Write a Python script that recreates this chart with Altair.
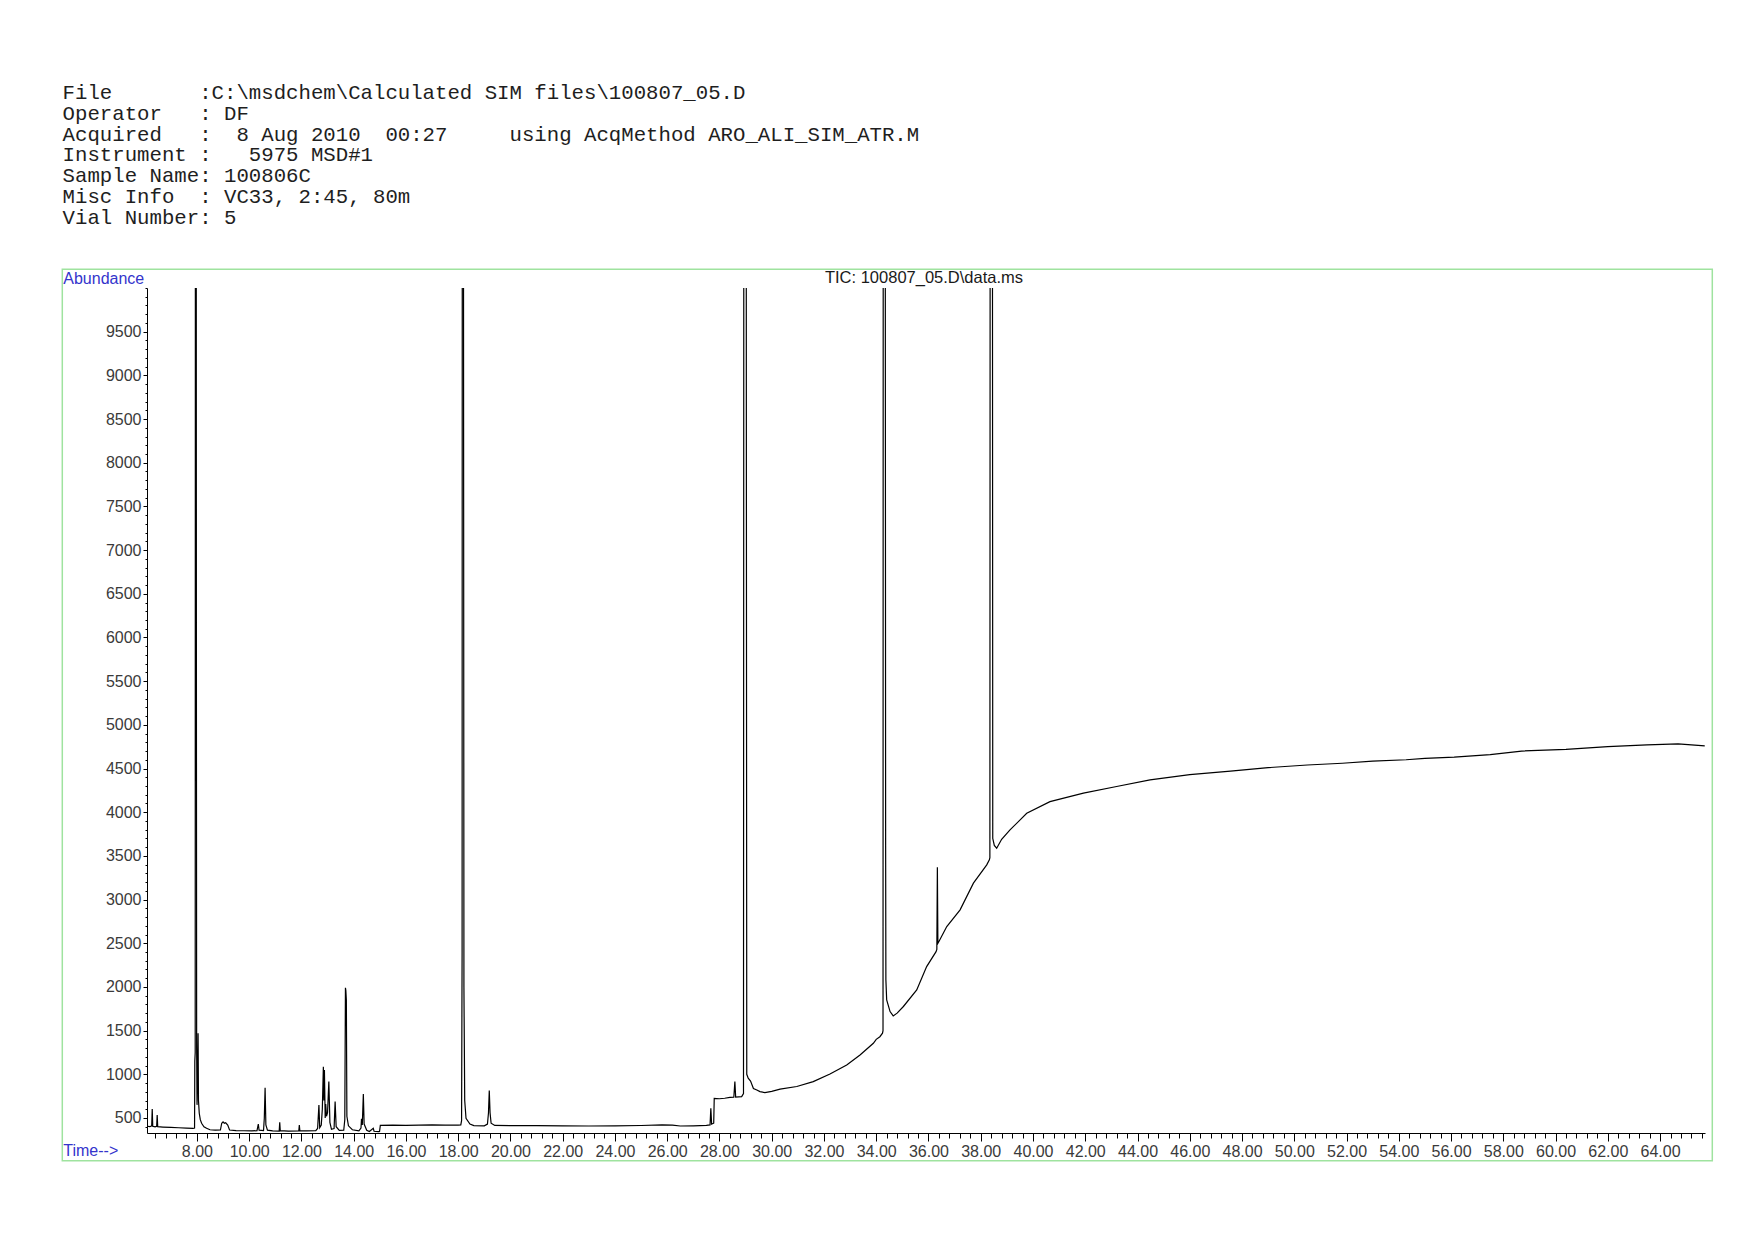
import altair as alt
import pandas as pd

# ---------------- text ----------------
header_lines = [
    "File       :C:\\msdchem\\Calculated SIM files\\100807_05.D",
    "Operator   : DF",
    "Acquired   :  8 Aug 2010  00:27     using AcqMethod ARO_ALI_SIM_ATR.M",
    "Instrument :   5975 MSD#1",
    "Sample Name: 100806C",
    "Misc Info  : VC33, 2:45, 80m",
    "Vial Number: 5",
]
plot_title = "TIC: 100807_05.D\\data.ms"
y_label = "Abundance"
x_label = "Time-->"

# ---------------- chromatogram (retention time in min, abundance) ----------------
rt = [
    6.10, 6.20, 6.27, 6.29, 6.31, 6.40, 6.46, 6.48, 6.50, 6.70, 7.00, 7.30, 7.60, 7.85,
    7.91, 7.92, 7.935, 7.955, 7.980, 7.990, 8.005, 8.03, 8.045, 8.06, 8.09, 8.13, 8.18,
    8.27, 8.37, 8.50, 8.70, 8.90, 8.95, 9.00, 9.05, 9.10, 9.18, 9.25, 9.50, 9.80, 10.10,
    10.30, 10.35, 10.38, 10.55, 10.58, 10.61, 10.64, 10.70, 10.90, 11.15, 11.17, 11.19,
    11.50, 11.90, 11.92, 11.94, 12.20, 12.55, 12.62, 12.67, 12.70, 12.76, 12.80, 12.84,
    12.86, 12.88, 12.91, 12.93, 12.96, 13.00, 13.05, 13.09, 13.15, 13.25, 13.29, 13.33,
    13.45, 13.62, 13.66, 13.685, 13.70, 13.72, 13.74, 13.80, 13.95, 14.20, 14.28, 14.30,
    14.33, 14.37, 14.40, 14.50, 14.60, 14.75, 14.78, 14.95, 14.99, 15.02, 15.50, 16.00,
    16.50, 17.00, 17.50, 18.00, 18.10, 18.13, 18.15, 18.17, 18.205, 18.22, 18.25, 18.30,
    18.45, 18.60, 19.00, 19.12, 19.16, 19.19, 19.22, 19.26, 19.40, 20.00, 21.00, 22.00,
    23.00, 24.00, 25.00, 25.80, 26.20, 26.50, 27.00, 27.50, 27.64, 27.67, 27.70, 27.78,
    27.80, 28.00, 28.20, 28.40, 28.55, 28.59, 28.62, 28.85, 28.92, 28.965, 29.045, 29.10,
    29.19, 29.30, 29.43, 29.55, 29.74, 30.00, 30.32, 30.96, 31.59, 32.23, 32.87, 33.38,
    33.89, 34.00, 34.14, 34.24, 34.26, 34.29, 34.36, 34.37, 34.40, 34.53, 34.65, 34.80,
    35.04, 35.55, 35.93, 36.29, 36.32, 36.34, 36.36, 36.40, 36.70, 37.21, 37.72, 38.23,
    38.33, 38.35, 38.40, 38.46, 38.52, 38.61, 38.80, 39.12, 39.76, 40.65, 41.93, 43.20,
    44.48, 46.00, 47.56, 49.00, 50.50, 51.84, 53.00, 54.28, 55.00, 56.12, 57.50, 58.70,
    60.40, 62.00, 63.50, 64.69, 65.71,
]
abundance = [
    405, 400, 410, 603, 405, 398, 405, 534, 400, 396, 392, 388, 384, 380,
    385, 1150, 1250, 30000, 6170, 1300, 650, 1100, 1470, 700, 554, 480, 440,
    400, 382, 365, 360, 362, 440, 455, 440, 445, 420, 362, 356, 354, 352,
    355, 431, 360, 355, 500, 847, 420, 360, 352, 350, 450, 355,
    350, 352, 420, 355, 352, 355, 380, 649, 390, 420, 600, 1087,
    700, 1050, 500, 660, 520, 560, 916, 450, 370, 380, 687, 400,
    358, 360, 480, 1990, 1960, 1850, 520, 410, 365, 352, 385, 490,
    420, 775, 430, 360, 345, 382, 348, 343, 345, 416, 418, 415,
    418, 420, 417, 418, 420, 470, 2400, 30000, 9700, 2000, 700, 497,
    431, 412, 410, 430, 560, 815, 560, 440, 415, 412, 413, 410,
    408, 410, 414, 420, 418, 408, 410, 415, 420, 611, 430, 440,
    725, 720, 726, 735, 738, 916, 740, 745, 780, 40000, 1000, 955,
    923, 838, 820, 802, 790, 805, 830, 860, 916, 1003, 1107, 1220,
    1355, 1400, 1430, 1470, 1500, 40000, 3630, 2080, 1851, 1718, 1668, 1700,
    1776, 1966, 2233, 2404, 2430, 3370, 2500, 2520, 2691, 2882, 3188, 3397,
    3454, 3480, 40000, 3700, 3620, 3588, 3690, 3797, 3987, 4121, 4218, 4294,
    4370, 4430, 4470, 4510, 4540, 4560, 4585, 4600, 4615, 4630, 4660, 4700,
    4720, 4750, 4770, 4783, 4760,
]

# ---------------- axes ----------------
x_domain = [6.09, 65.72]
y_domain = [328, 10000]
x_major = [8.0 + 2 * i for i in range(29)]              # 8.00 ... 64.00
x_minor = [round(6.4 + 0.4 * i, 1) for i in range(149)]  # every 0.4 min
y_major = [500 + 500 * i for i in range(19)]            # 500 ... 9500
y_minor = [400 + 100 * i for i in range(97)]            # every 100

df = pd.DataFrame({"rt": rt, "abundance": abundance})

BLUE = "#3434cc"
LABEL_FONT = "Liberation Sans"
NBSP = "\u00a0"

xs = alt.Scale(domain=x_domain, nice=False, zero=False)
ys = alt.Scale(domain=y_domain, nice=False, zero=False)

major_x_axis = alt.Axis(
    values=x_major, format=".2f", title=None, grid=False, orient="bottom",
    tickSize=8, tickColor="black", domainColor="black", domainWidth=1,
    labelFont=LABEL_FONT, labelFontSize=16, labelColor="#3a3a3a",
    labelPadding=2, labelOverlap=False, labelFlush=False,
)
major_y_axis = alt.Axis(
    values=y_major, format="d", title=None, grid=False, orient="left",
    tickSize=4, tickColor="black", domainColor="black", domainWidth=1,
    labelFont=LABEL_FONT, labelFontSize=16, labelColor="#3a3a3a",
    labelPadding=2, labelOverlap=False, labelFlush=False,
)
minor_x_axis = alt.Axis(
    values=x_minor, labels=False, title=None, grid=False, orient="bottom",
    tickSize=5, tickColor="black", domain=False,
)
minor_y_axis = alt.Axis(
    values=y_minor, labels=False, title=None, grid=False, orient="left",
    tickSize=2, tickColor="black", domain=False,
)

trace = alt.Chart(df).mark_line(color="black", strokeWidth=1.2, clip=True).encode(
    x=alt.X("rt:Q", scale=xs, axis=major_x_axis),
    y=alt.Y("abundance:Q", scale=ys, axis=major_y_axis),
)
minor = alt.Chart(df).mark_line(opacity=0, clip=True).encode(
    x=alt.X("rt:Q", scale=xs, axis=minor_x_axis),
    y=alt.Y("abundance:Q", scale=ys, axis=minor_y_axis),
)

frame = alt.Chart(pd.DataFrame({"k": [0]})).mark_rect(
    fillOpacity=0, stroke="#9fe39f", strokeWidth=1.5
).encode(
    x=alt.value(-84.7), x2=alt.value(1565.3), y=alt.value(-18.7), y2=alt.value(872.7)
)

header_text = "\n".join(line.replace(" ", NBSP) for line in header_lines)
header = alt.Chart(pd.DataFrame({"t": [header_text]})).mark_text(
    align="left", baseline="top", font="Liberation Mono", fontSize=20.7,
    lineHeight=20.9, lineBreak="\n", color="#1e1e1e",
).encode(x=alt.value(-84.4), y=alt.value(-205.2), text="t:N")

ylab = alt.Chart(pd.DataFrame({"t": [y_label]})).mark_text(
    align="left", baseline="middle", font=LABEL_FONT, fontSize=16, color=BLUE,
).encode(x=alt.value(-83.7), y=alt.value(-9), text="t:N")

xlab = alt.Chart(pd.DataFrame({"t": [x_label]})).mark_text(
    align="left", baseline="middle", font=LABEL_FONT, fontSize=16, color=BLUE,
).encode(x=alt.value(-83.7), y=alt.value(863), text="t:N")

ttl = alt.Chart(pd.DataFrame({"t": [plot_title]})).mark_text(
    align="center", baseline="middle", font=LABEL_FONT, fontSize=16.5, color="#1a1a1a",
).encode(x=alt.value(777), y=alt.value(-10), text="t:N")

chart = alt.layer(frame, trace, minor, header, ylab, xlab, ttl).resolve_axis(
    x="independent", y="independent"
).properties(
    width=1558, height=845,
    autosize=alt.AutoSizeParams(type="none"),
    padding={"left": 139, "top": 280, "right": 41, "bottom": 60},
    background="white",
).configure_view(stroke=None)

chart.save("out.html", embed_options={"renderer": "svg", "actions": False})
